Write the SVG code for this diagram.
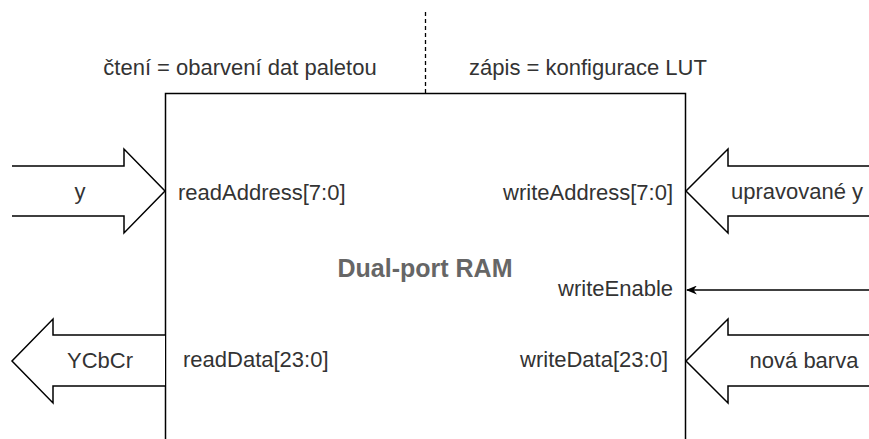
<svg xmlns="http://www.w3.org/2000/svg" width="869" height="439" viewBox="0 0 869 439">
<defs>
<style>
text{font-family:"Liberation Sans",Arial,sans-serif;font-size:22px;fill:#333}
.t{font-weight:bold;fill:#666;font-size:25px}
.bus{fill:#fff;stroke:#000;stroke-width:1.5}
.ln{fill:none;stroke:#000;stroke-width:1.5}
</style>
<marker id="ah" viewBox="0 0 10 10" refX="9" refY="5" markerWidth="11" markerHeight="9" markerUnits="userSpaceOnUse" orient="auto" preserveAspectRatio="none">
<path d="M0,0 L10,5 L0,10 L3,5 Z" fill="#000"/>
</marker>
</defs>
<rect width="869" height="439" fill="#fff"/>
<g id="divider">
<line x1="425.5" y1="12" x2="425.5" y2="93" stroke="#000" stroke-width="1.3" stroke-dasharray="4,3"/>
<text x="240" y="75" text-anchor="middle">čtení = obarvení dat paletou</text>
<text x="588" y="75" text-anchor="middle">zápis = konfigurace LUT</text>
</g>
<g id="ram">
<path class="ln" d="M165.5,440 V93.5 H685.5 V440"/>
<text class="t" x="425" y="277" text-anchor="middle">Dual-port RAM</text>
<text x="178" y="200">readAddress[7:0]</text>
<text x="673" y="200" text-anchor="end">writeAddress[7:0]</text>
<text x="673" y="296" text-anchor="end">writeEnable</text>
<text x="183" y="367">readData[23:0]</text>
<text x="668" y="367" text-anchor="end">writeData[23:0]</text>
</g>
<g id="connectors">
<g id="in-y">
<path class="bus" d="M12,166 H124 V149 L165,191 L124,233 V216 H12"/>
<text x="80" y="199" text-anchor="middle">y</text>
</g>
<g id="in-upravovane">
<path class="bus" d="M870,166 H728 V149 L686,191 L728,233 V216 H870"/>
<text x="797" y="199" text-anchor="middle">upravované y</text>
</g>
<g id="out-ycbcr">
<path class="bus" d="M165,335 H53 V319 L12,361 L53,403 V386 H165"/>
<text x="100" y="368" text-anchor="middle">YCbCr</text>
</g>
<g id="in-barva">
<path class="bus" d="M870,335 H728 V319 L686,361 L728,403 V386 H870"/>
<text x="804" y="368" text-anchor="middle">nová barva</text>
</g>
<g id="in-we">
<line class="ln" x1="869" y1="290" x2="687" y2="290" marker-end="url(#ah)"/>
</g>
</g>
</svg>
